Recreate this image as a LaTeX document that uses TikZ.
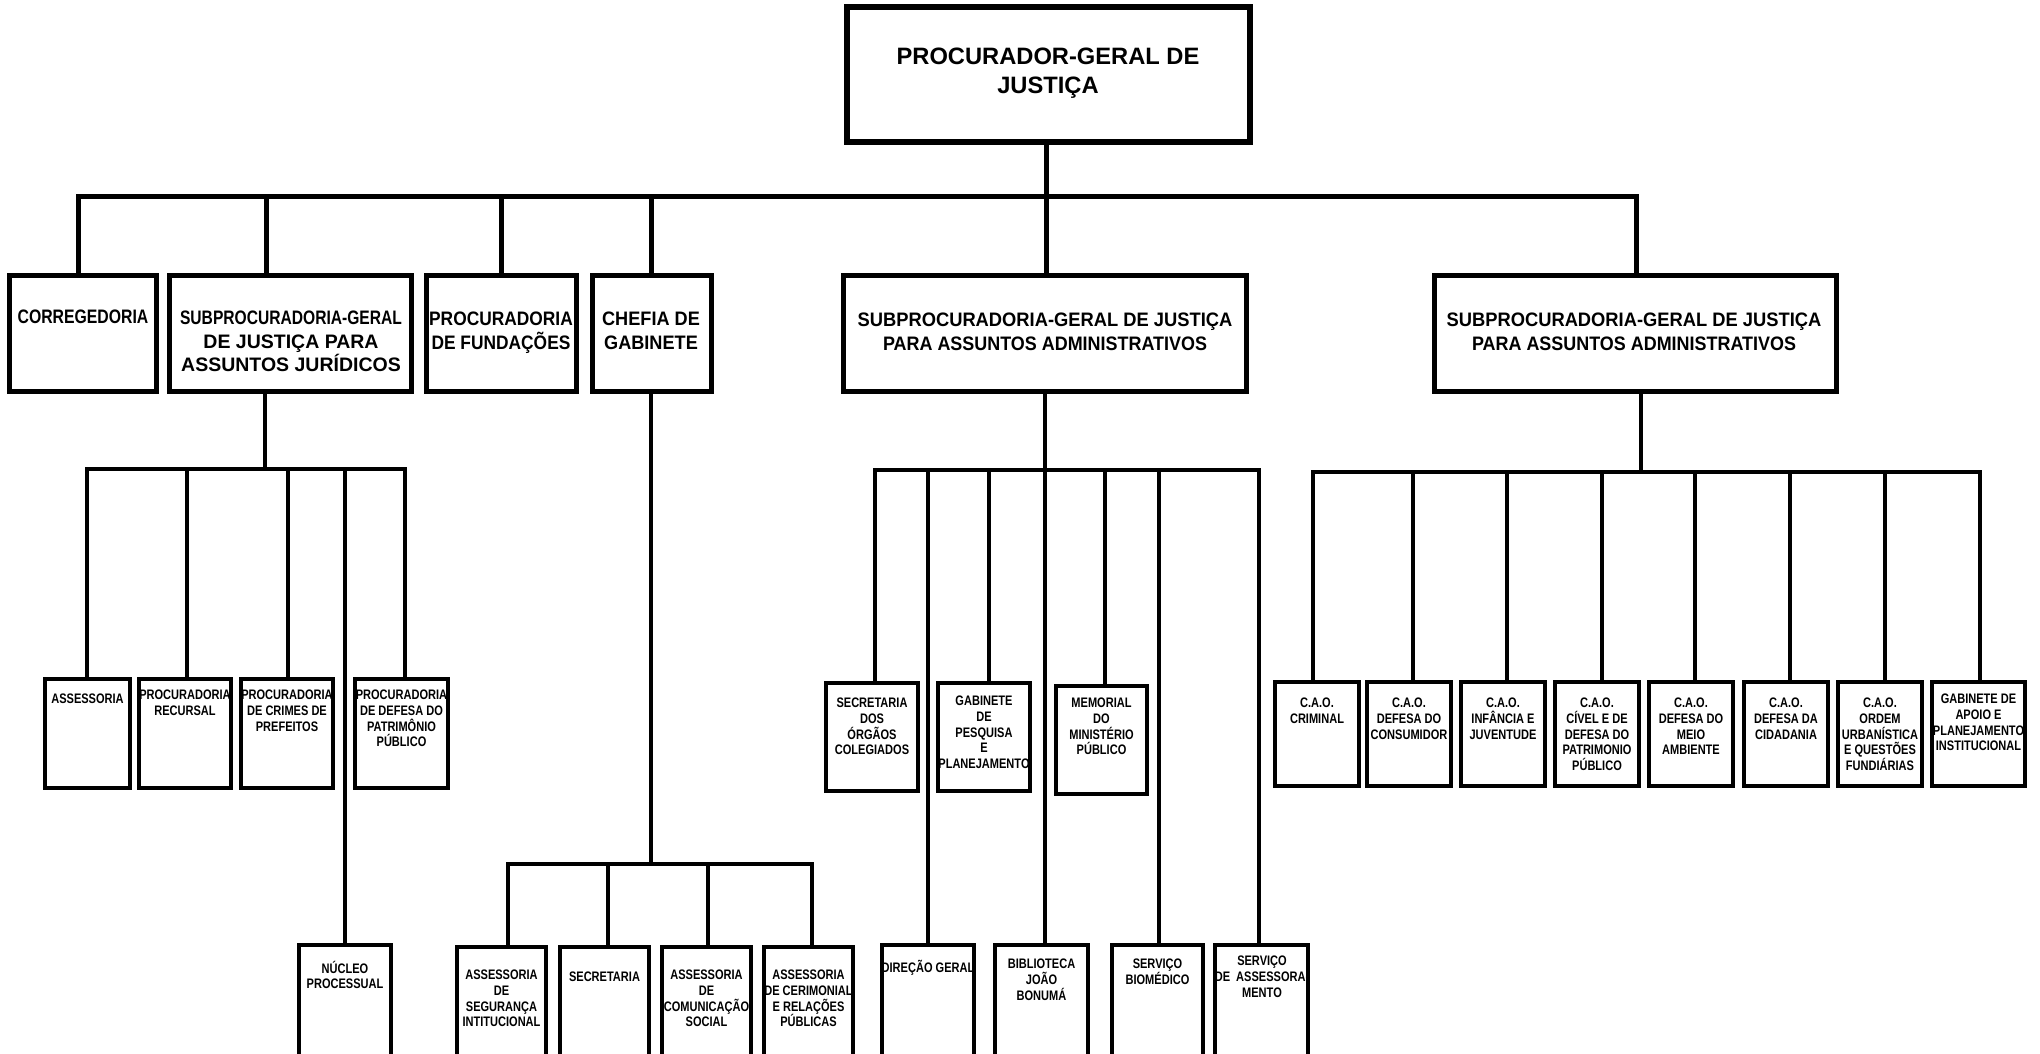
\documentclass[tikz,border=0pt]{standalone}
\usepackage{fontspec}
\setmainfont{Liberation Sans}
\newfontfamily\cf{Liberation Sans}[FakeStretch=0.8]
\newcommand\obox[6]{\node[#6, minimum width={#4-#2-4}, minimum height={#5-#3-4}] (#1) at ({(#2+#4)/2},{(#3+#5)/2}) {};}
\newcommand\sx[2]{\scalebox{#1}[1]{#2}}
\begin{document}
\begin{tikzpicture}[x=1pt,y=-1pt,
  every node/.style={inner sep=0pt, outer sep=0pt},
  b1/.style={draw, line width=5.5pt, fill=white},
  b2/.style={draw, line width=5pt, fill=white},
  b3/.style={draw, line width=3.5pt, fill=white},
  c1/.style={line width=5pt, line cap=rect},
  c3/.style={line width=3.6pt, line cap=rect},
  t1/.style={font=\bfseries\fontsize{23.7}{29}\selectfont, align=center, anchor=north, execute at begin node={\rule{0pt}{23.7pt}}},
  t2/.style={font=\bfseries\fontsize{19.5}{23.5}\selectfont, align=center, anchor=north, execute at begin node={\rule{0pt}{19.5pt}}},
  t3/.style={font=\cf\bfseries\fontsize{13.8}{15.7}\selectfont, align=center, anchor=north, execute at begin node={\rule{0pt}{13pt}}},
]
\useasboundingbox (0,0) rectangle (2040,1053);
\fill[white] (0,0) rectangle (2040,1053);
\clip (0,0) rectangle (2040,1053);

% ---------- boxes ----------
\obox{pgj}{845}{5}{1252}{144}{b1}
\obox{corr}{7}{273}{158}{393}{b2}
\obox{jur}{167}{273}{413}{393}{b2}
\obox{fund}{424}{273}{578}{393}{b2}
\obox{chef}{590}{273}{713}{393}{b2}
\obox{adm1}{841}{273}{1248}{393}{b2}
\obox{adm2}{1432}{273}{1838}{393}{b2}

\obox{ass}{43}{677}{132}{790}{b3}
\obox{rec}{137}{677}{233}{790}{b3}
\obox{cri}{239}{677}{335}{790}{b3}
\obox{def}{353}{677}{450}{790}{b3}
\obox{nuc}{297}{943}{393}{1110}{b3}

\obox{seg}{455}{945}{548}{1110}{b3}
\obox{sec}{558}{945}{651}{1110}{b3}
\obox{com}{660}{945}{753}{1110}{b3}
\obox{cer}{762}{945}{855}{1110}{b3}

\obox{org}{824}{681}{920}{793}{b3}
\obox{gab}{936}{681}{1032}{793}{b3}
\obox{mem}{1054}{684}{1149}{796}{b3}
\obox{dir}{880}{943}{976}{1110}{b3}
\obox{bib}{993}{943}{1090}{1110}{b3}
\obox{bio}{1110}{943}{1205}{1110}{b3}
\obox{asm}{1213}{943}{1310}{1110}{b3}

\obox{cao1}{1273}{680}{1361}{788}{b3}
\obox{cao2}{1365}{680}{1453}{788}{b3}
\obox{cao3}{1459}{680}{1547}{788}{b3}
\obox{cao4}{1553}{680}{1641}{788}{b3}
\obox{cao5}{1647}{680}{1735}{788}{b3}
\obox{cao6}{1742}{680}{1830}{788}{b3}
\obox{cao7}{1836}{680}{1924}{788}{b3}
\obox{apo}{1930}{680}{2027}{788}{b3}

% ---------- bus coordinates ----------
\coordinate (tbL) at (78,196.5);
\coordinate (tbR) at (1636,196.5);
\coordinate (tb2) at (266,196.5);
\coordinate (tb3) at (501,196.5);
\coordinate (tb4) at (651,196.5);
\coordinate (tb5) at (1046,196.5);

\coordinate (jb) at (265,469);
\coordinate (jb1) at (87,469);
\coordinate (jb2) at (187,469);
\coordinate (jb3) at (288,469);
\coordinate (jb4) at (345,469);
\coordinate (jb5) at (405,469);

\coordinate (cb) at (651,864);
\coordinate (cb1) at (508,864);
\coordinate (cb2) at (608,864);
\coordinate (cb3) at (708,864);
\coordinate (cb4) at (812,864);

\coordinate (ab1) at (875,470);
\coordinate (ab2) at (928,470);
\coordinate (ab3) at (989,470);
\coordinate (ab4) at (1045,470);
\coordinate (ab5) at (1105,470);
\coordinate (ab6) at (1159,470);
\coordinate (ab7) at (1259,470);

\coordinate (db) at (1641,472);
\coordinate (db1) at (1313,472);
\coordinate (db2) at (1413,472);
\coordinate (db3) at (1507,472);
\coordinate (db4) at (1602,472);
\coordinate (db5) at (1695,472);
\coordinate (db6) at (1790,472);
\coordinate (db7) at (1885,472);
\coordinate (db8) at (1980,472);

% ---------- top level connectors ----------
\draw[c1] (tbL) -- (tbR);
\draw[c1] (pgj.south -| tb5) -- (adm1.north -| tb5);
\draw[c1] (tbL) -- (corr.north -| tbL);
\draw[c1] (tb2) -- (jur.north -| tb2);
\draw[c1] (tb3) -- (fund.north -| tb3);
\draw[c1] (tb4) -- (chef.north -| tb4);
\draw[c1] (tbR) -- (adm2.north -| tbR);

% ---------- jurídicos ----------
\draw[c3] (jur.south -| jb) -- (jb);
\draw[c3] (jb1) -- (jb5);
\draw[c3] (jb1) -- (ass.north -| jb1);
\draw[c3] (jb2) -- (rec.north -| jb2);
\draw[c3] (jb3) -- (cri.north -| jb3);
\draw[c3] (jb4) -- (nuc.north -| jb4);
\draw[c3] (jb5) -- (def.north -| jb5);

% ---------- chefia ----------
\draw[c3] (chef.south -| cb) -- (cb);
\draw[c3] (cb1) -- (cb4);
\draw[c3] (cb1) -- (seg.north -| cb1);
\draw[c3] (cb2) -- (sec.north -| cb2);
\draw[c3] (cb3) -- (com.north -| cb3);
\draw[c3] (cb4) -- (cer.north -| cb4);

% ---------- administrativos 1 ----------
\draw[c3] (adm1.south -| ab4) -- (bib.north -| ab4);
\draw[c3] (ab1) -- (ab7);
\draw[c3] (ab1) -- (org.north -| ab1);
\draw[c3] (ab2) -- (dir.north -| ab2);
\draw[c3] (ab3) -- (gab.north -| ab3);
\draw[c3] (ab5) -- (mem.north -| ab5);
\draw[c3] (ab6) -- (bio.north -| ab6);
\draw[c3] (ab7) -- (asm.north -| ab7);

% ---------- administrativos 2 ----------
\draw[c3] (adm2.south -| db) -- (db);
\draw[c3] (db1) -- (db8);
\draw[c3] (db1) -- (cao1.north -| db1);
\draw[c3] (db2) -- (cao2.north -| db2);
\draw[c3] (db3) -- (cao3.north -| db3);
\draw[c3] (db4) -- (cao4.north -| db4);
\draw[c3] (db5) -- (cao5.north -| db5);
\draw[c3] (db6) -- (cao6.north -| db6);
\draw[c3] (db7) -- (cao7.north -| db7);
\draw[c3] (db8) -- (apo.north -| db8);

% ---------- texts ----------
\node[t1] (pgj-t) at (1048,48) {PROCURADOR-GERAL DE\\JUSTIÇA};

\node[t2] (corr-t) at (83,303.5) {\sx{0.81}{CORREGEDORIA}};
\node[t2] (jur-t) at (291,311) {\sx{0.8}{SUBPROCURADORIA-GERAL}\\DE JUSTIÇA PARA\\ASSUNTOS JURÍDICOS};
\node[t2] (fund-t) at (501,312) {\sx{0.89}{PROCURADORIA}\\\sx{0.89}{DE FUNDAÇÕES}};
\node[t2] (chef-t) at (651,312) {\sx{0.93}{CHEFIA DE}\\\sx{0.93}{GABINETE}};
\node[t2] (adm1-t) at (1045,313) {\sx{0.94}{SUBPROCURADORIA-GERAL DE JUSTIÇA}\\\sx{0.92}{PARA ASSUNTOS ADMINISTRATIVOS}};
\node[t2] (adm2-t) at (1634,313) {\sx{0.94}{SUBPROCURADORIA-GERAL DE JUSTIÇA}\\\sx{0.92}{PARA ASSUNTOS ADMINISTRATIVOS}};

\node[t3] (ass-t) at (87.5,690) {ASSESSORIA};
\node[t3] (rec-t) at (185,690) {PROCURADORIA\\RECURSAL};
\node[t3] (cri-t) at (287,690) {PROCURADORIA\\DE CRIMES DE\\PREFEITOS};
\node[t3] (def-t) at (401.5,690) {PROCURADORIA\\DE DEFESA DO\\PATRIMÔNIO\\PÚBLICO};
\node[t3] (nuc-t) at (345,961) {NÚCLEO\\PROCESSUAL};

\node[t3] (seg-t) at (501.5,970) {ASSESSORIA\\DE\\SEGURANÇA\\INTITUCIONAL};
\node[t3] (sec-t) at (604.5,968) {SECRETARIA};
\node[t3] (com-t) at (706.5,970) {ASSESSORIA\\DE\\COMUNICAÇÃO\\SOCIAL};
\node[t3] (cer-t) at (808.5,970) {ASSESSORIA\\DE CERIMONIAL\\E RELAÇÕES\\PÚBLICAS};

\node[t3] (org-t) at (872,698) {SECRETARIA\\DOS\\ÓRGÃOS\\COLEGIADOS};
\node[t3] (gab-t) at (984,696) {GABINETE\\DE\\PESQUISA\\E\\PLANEJAMENTO};
\node[t3] (mem-t) at (1101.5,698) {MEMORIAL\\DO\\MINISTÉRIO\\PÚBLICO};
\node[t3] (dir-t) at (928,959) {DIREÇÃO GERAL};
\node[t3] (bib-t) at (1041.5,959) {BIBLIOTECA\\JOÃO\\BONUMÁ};
\node[t3] (bio-t) at (1157.5,959) {SERVIÇO\\BIOMÉDICO};
\node[t3] (asm-t) at (1262,956) {SERVIÇO\\DE\ \ ASSESSORA-\\MENTO};

\node[t3] (cao1-t) at (1317,698) {C.A.O.\\CRIMINAL};
\node[t3] (cao2-t) at (1409,698) {C.A.O.\\DEFESA DO\\CONSUMIDOR};
\node[t3] (cao3-t) at (1503,698) {C.A.O.\\INFÂNCIA E\\JUVENTUDE};
\node[t3] (cao4-t) at (1597,698) {C.A.O.\\CÍVEL E DE\\DEFESA DO\\PATRIMONIO\\PÚBLICO};
\node[t3] (cao5-t) at (1691,698) {C.A.O.\\DEFESA DO\\MEIO\\AMBIENTE};
\node[t3] (cao6-t) at (1786,698) {C.A.O.\\DEFESA DA\\CIDADANIA};
\node[t3] (cao7-t) at (1880,698) {C.A.O.\\ORDEM\\URBANÍSTICA\\E QUESTÕES\\FUNDIÁRIAS};
\node[t3] (apo-t) at (1978.5,694) {GABINETE DE\\APOIO E\\PLANEJAMENTO\\INSTITUCIONAL};
\end{tikzpicture}
\end{document}
